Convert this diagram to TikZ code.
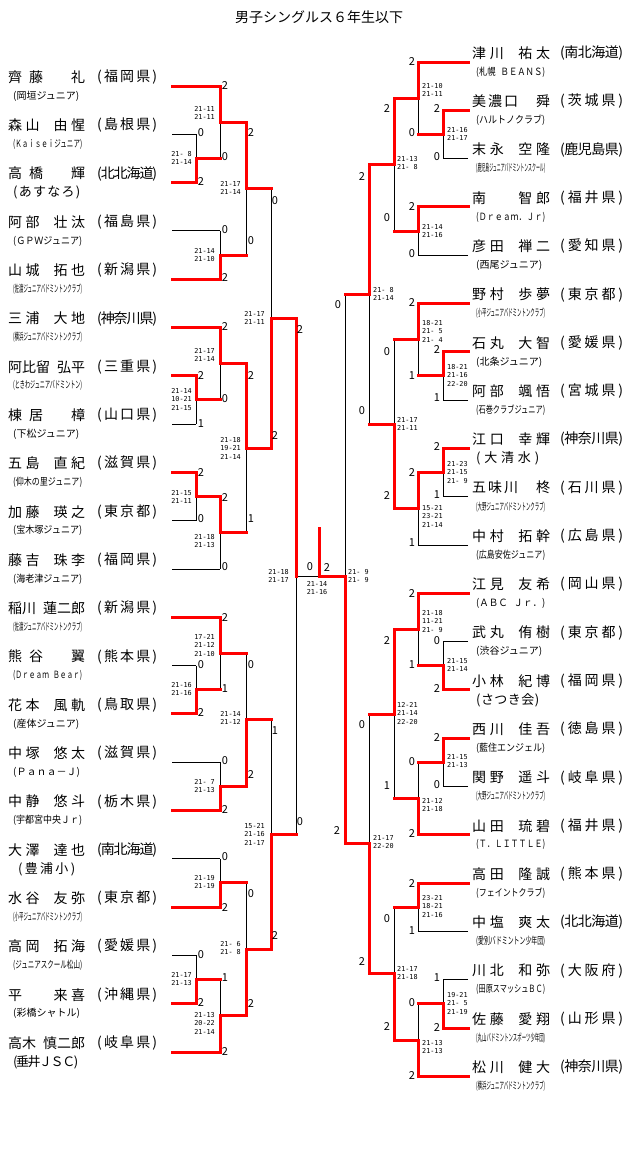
\documentclass[tikz,border=0pt]{standalone}
\usepackage{fontspec}
\usepackage{graphicx}
\setmainfont{Noto Sans CJK JP}
\newfontfamily\scf{DejaVu Sans Mono}
\definecolor{redx}{RGB}{255,0,0}
\pgfdeclarelayer{bg}
\pgfsetlayers{bg,main}
\makeatletter
\newcommand\dgl{\hskip 0pt plus 1fill minus 4pt\relax}
\newcommand\zsp{\hbox to 1em{}}
\newcommand\hsp{\hbox to .5em{}}
\newcommand\csp{\hspace{6pt}}
\newcommand\distr[2]{\hbox to #1{\let\distr@sep\relax\@tfor\distr@c:=#2\do{\distr@sep\distr@c\let\distr@sep\dgl}}}
\makeatother
\newsavebox\clubbox
\newcommand\club[2][69pt]{\sbox\clubbox{\fontsize{10}{10}\selectfont #2}\ifdim\wd\clubbox>#1\relax\resizebox{#1}{\height}{\usebox\clubbox}\else\usebox\clubbox\fi}
\newcommand\bigc[2]{{\fontsize{13}{13}\selectfont\distr{#1}{#2}}}
\tikzset{
 bk/.style={draw=black,line width=1pt},
 rd/.style={draw=redx,line width=3pt,line cap=rect},
 nm/.style={anchor=west,inner sep=0pt,font=\fontsize{14}{14}\selectfont},
 cl/.style={anchor=west,inner sep=0pt},
 dg/.style={inner sep=0pt,font=\fontsize{11}{11}\selectfont},
 scl/.style={anchor=east,align=right,inner sep=0pt,font=\scf\fontsize{6.8}{8.4}\selectfont},
 scr/.style={anchor=west,align=left,inner sep=0pt,font=\scf\fontsize{6.8}{8.4}\selectfont},
 scc/.style={anchor=center,align=center,inner sep=0pt,font=\scf\fontsize{6.8}{8.4}\selectfont},
}
\newcommand\LP[5]{%
 \node[nm] (#1n) at (8,#2-9) {\distr{77pt}{#3}};
 \node[nm] (#1p) at (97,#2-9) {\distr{60pt}{#4}};
 \node[cl] (#1c) at (13,#2+10) {#5};
 \coordinate (#1) at (172,#2);}
\newcommand\RP[5]{%
 \node[nm] (#1n) at (472,#2-9) {\distr{78pt}{#3}};
 \node[nm] (#1p) at (560,#2-9) {\distr{63pt}{#4}};
 \node[cl] (#1c) at (476,#2+10) {#5};
 \coordinate (#1) at (468,#2);}
\newcommand\PLr[2]{\draw[rd] (#1) -- (#1 -| #2);}
\newcommand\PLb[2]{\begin{pgfonlayer}{bg}\draw[bk] (#1) -- (#1 -| #2);\end{pgfonlayer}}
\newcommand\MT[6]{%
 \begin{pgfonlayer}{bg}\draw[bk] (#1,#2) -- (#1,#3);\end{pgfonlayer}
 \draw[rd] (#1,#5) -- (#1,#4) -- (#6,#4);}
\begin{document}
\begin{tikzpicture}[x=1pt,y=-1pt]
\useasboundingbox (0,0) rectangle (640,1165);
\node (title) at (319,17) {\fontsize{14}{14}\selectfont 男子シングルス６年生以下};
\coordinate (c1) at (196,0); \coordinate (c2) at (220,0);
\coordinate (d1) at (443,0); \coordinate (d2) at (418,0);
% left players
\LP{L1}{86}{齊藤\zsp 礼}{(福岡県)}{\club{(岡垣ジュニア)}}
\LP{L2}{134.3}{森山\hsp 由惺}{(島根県)}{\club{(Ｋａｉｓｅｉジュニア)}}
\LP{L3}{182.6}{高橋\zsp 輝}{(北北海道)}{\bigc{67pt}{(あすなろ)}}
\LP{L4}{230.9}{阿部\hsp 壮汰}{(福島県)}{\club{(ＧＰＷジュニア)}}
\LP{L5}{279.2}{山城\hsp 拓也}{(新潟県)}{\club{(佐渡ジュニアバドミントンクラブ)}}
\LP{L6}{327.5}{三浦\hsp 大地}{(神奈川県)}{\club{(横浜ジュニアバドミントンクラブ)}}
\LP{L7}{375.8}{阿比留\hsp 弘平}{(三重県)}{\club{(ときわジュニアバドミントン)}}
\LP{L8}{424.1}{棟居\zsp 樟}{(山口県)}{\club{(下松ジュニア)}}
\LP{L9}{472.4}{五島\hsp 直紀}{(滋賀県)}{\club{(仰木の里ジュニア)}}
\LP{L10}{520.7}{加藤\hsp 瑛之}{(東京都)}{\club{(宝木塚ジュニア)}}
\LP{L11}{569}{藤吉\hsp 珠李}{(福岡県)}{\club{(海老津ジュニア)}}
\LP{L12}{617.3}{稲川\hsp 蓮二郎}{(新潟県)}{\club{(佐渡ジュニアバドミントンクラブ)}}
\LP{L13}{665.6}{熊谷\zsp 翼}{(熊本県)}{\club{(Ｄｒｅａｍ\csp Ｂｅａｒ)}}
\LP{L14}{713.9}{花本\hsp 風軌}{(鳥取県)}{\club{(産体ジュニア)}}
\LP{L15}{762.2}{中塚\hsp 悠太}{(滋賀県)}{\club{(Ｐａｎａ－Ｊ)}}
\LP{L16}{810.5}{中静\hsp 悠斗}{(栃木県)}{\club{(宇都宮中央Ｊｒ)}}
\LP{L17}{858.8}{大澤\hsp 達也}{(南北海道)}{\hskip5pt\bigc{57pt}{(豊浦小)}}
\LP{L18}{907.1}{水谷\hsp 友弥}{(東京都)}{\club{(小平ジュニアバドミントンクラブ)}}
\LP{L19}{955.4}{高岡\hsp 拓海}{(愛媛県)}{\club{(ジュニアスクール松山)}}
\LP{L20}{1003.7}{平\zsp\hsp 来喜}{(沖縄県)}{\club{(彩橋シャトル)}}
\LP{L21}{1052}{高木\hsp 慎二郎}{(岐阜県)}{\bigc{65pt}{(垂井ＪＳＣ)}}
% right players
\RP{R1}{62}{津川\hsp 祐太}{(南北海道)}{\club{(札幌\csp ＢＥＡＮＳ)}}
\RP{R2}{110.3}{美濃口\zsp 舜}{(茨城県)}{\club{(ハルトノクラブ)}}
\RP{R3}{158.6}{末永\hsp 空隆}{(鹿児島県)}{\club{(鹿児島ジュニアバドミントンスクール)}}
\RP{R4}{206.9}{南\zsp\hsp 智郎}{(福井県)}{\club{(Ｄｒｅａｍ．Ｊｒ)}}
\RP{R5}{255.2}{彦田\hsp 禅二}{(愛知県)}{\club{(西尾ジュニア)}}
\RP{R6}{303.5}{野村\hsp 歩夢}{(東京都)}{\club{(小平ジュニアバドミントンクラブ)}}
\RP{R7}{351.8}{石丸\hsp 大智}{(愛媛県)}{\club{(北条ジュニア)}}
\RP{R8}{400.1}{阿部\hsp 颯悟}{(宮城県)}{\club{(石巻クラブジュニア)}}
\RP{R9}{448.4}{江口\hsp 幸輝}{(神奈川県)}{\bigc{63pt}{(大清水)}}
\RP{R10}{496.7}{五味川\zsp 柊}{(石川県)}{\club{(大野ジュニアバドミントンクラブ)}}
\RP{R11}{545}{中村\hsp 拓幹}{(広島県)}{\club{(広島安佐ジュニア)}}
\RP{R12}{593.3}{江見\hsp 友希}{(岡山県)}{\club{(ＡＢＣ\csp Ｊｒ．)}}
\RP{R13}{641.6}{武丸\hsp 侑樹}{(東京都)}{\club{(渋谷ジュニア)}}
\RP{R14}{689.9}{小林\hsp 紀博}{(福岡県)}{\bigc{63pt}{(さつき会)}}
\RP{R15}{738.2}{西川\hsp 佳吾}{(徳島県)}{\club{(藍住エンジェル)}}
\RP{R16}{786.5}{関野\hsp 遥斗}{(岐阜県)}{\club{(大野ジュニアバドミントンクラブ)}}
\RP{R17}{834.8}{山田\hsp 琉碧}{(福井県)}{\club{(Ｔ．ＬＩＴＴＬＥ)}}
\RP{R18}{883.1}{高田\hsp 隆誠}{(熊本県)}{\club{(フェイントクラブ)}}
\RP{R19}{931.4}{中塩\hsp 爽太}{(北北海道)}{\club{(愛別バドミントン少年団)}}
\RP{R20}{979.7}{川北\hsp 和弥}{(大阪府)}{\club{(田原スマッシュＢＣ)}}
\RP{R21}{1028}{佐藤\hsp 愛翔}{(山形県)}{\club{(丸山バドミントンスポーツ少年団)}}
\RP{R22}{1076.3}{松川\hsp 健大}{(神奈川県)}{\club{(横浜ジュニアバドミントンクラブ)}}
% left player lines
\PLr{L1}{c2} \PLb{L2}{c1} \PLr{L3}{c1} \PLb{L4}{c2} \PLr{L5}{c2}
\PLr{L6}{c2} \PLr{L7}{c1} \PLb{L8}{c1} \PLr{L9}{c1} \PLb{L10}{c1} \PLb{L11}{c2}
\PLr{L12}{c2} \PLb{L13}{c1} \PLr{L14}{c1} \PLb{L15}{c2} \PLr{L16}{c2}
\PLb{L17}{c2} \PLr{L18}{c2} \PLb{L19}{c1} \PLr{L20}{c1} \PLr{L21}{c2}
% right player lines
\PLr{R1}{d2} \PLr{R2}{d1} \PLb{R3}{d1} \PLr{R4}{d2} \PLb{R5}{d2}
\PLr{R6}{d2} \PLr{R7}{d1} \PLb{R8}{d1} \PLr{R9}{d1} \PLb{R10}{d1} \PLb{R11}{d2}
\PLr{R12}{d2} \PLb{R13}{d1} \PLr{R14}{d1} \PLr{R15}{d1} \PLb{R16}{d1} \PLr{R17}{d2}
\PLr{R18}{d2} \PLb{R19}{d2} \PLb{R20}{d1} \PLr{R21}{d1} \PLr{R22}{d2}
% left matches
\MT{196}{134.3}{182.6}{158.45}{182.6}{220}
\MT{220}{86}{158.45}{122.2}{86}{246}
\MT{220}{230.9}{279.2}{255.05}{279.2}{246}
\MT{246}{122.2}{255.05}{188.6}{122.2}{271}
\MT{196}{375.8}{424.1}{399.95}{375.8}{220}
\MT{220}{327.5}{399.95}{363.7}{327.5}{246}
\MT{196}{472.4}{520.7}{496.55}{472.4}{220}
\MT{220}{496.55}{569}{532.8}{496.55}{246}
\MT{246}{363.7}{532.8}{448.25}{363.7}{271}
\MT{271}{188.6}{448.25}{318.4}{448.25}{296}
\MT{196}{665.6}{713.9}{689.75}{713.9}{220}
\MT{220}{617.3}{689.75}{653.5}{617.3}{246}
\MT{220}{762.2}{810.5}{786.35}{810.5}{246}
\MT{246}{653.5}{786.35}{719.9}{786.35}{271}
\MT{220}{858.8}{907.1}{882.95}{907.1}{246}
\MT{196}{955.4}{1003.7}{979.55}{1003.7}{220}
\MT{220}{979.55}{1052}{1015.8}{1052}{246}
\MT{246}{882.95}{1015.8}{949.4}{1015.8}{271}
\MT{271}{719.9}{949.4}{834.65}{949.4}{296}
% right matches
\MT{443}{110.3}{158.6}{134.45}{110.3}{418}
\MT{418}{62}{134.45}{98.2}{62}{394}
\MT{418}{206.9}{255.2}{231.05}{206.9}{394}
\MT{394}{98.2}{231.05}{164.6}{98.2}{369}
\MT{443}{351.8}{400.1}{375.95}{351.8}{418}
\MT{418}{303.5}{375.95}{339.7}{303.5}{394}
\MT{443}{448.4}{496.7}{472.55}{448.4}{418}
\MT{418}{472.55}{545}{508.8}{472.55}{394}
\MT{394}{339.7}{508.8}{424.25}{508.8}{369}
\MT{369}{164.6}{424.25}{294.4}{164.6}{345}
\MT{443}{641.6}{689.9}{665.75}{689.9}{418}
\MT{418}{593.3}{665.75}{629.5}{593.3}{394}
\MT{443}{738.2}{786.5}{762.35}{738.2}{418}
\MT{418}{762.35}{834.8}{798.6}{834.8}{394}
\MT{394}{629.5}{798.6}{714.05}{629.5}{369}
\MT{418}{883.1}{931.4}{907.25}{883.1}{394}
\MT{443}{979.7}{1028}{1003.85}{1028}{418}
\MT{418}{1003.85}{1076.3}{1040.1}{1076.3}{394}
\MT{394}{907.25}{1040.1}{973.7}{1040.1}{369}
\MT{369}{714.05}{973.7}{843.9}{973.7}{345}
% final
\coordinate (fl) at (296,576.5); \coordinate (fr) at (345,576.5); \coordinate (fc) at (319,576.5); \coordinate (ft) at (319,528);
\begin{pgfonlayer}{bg}
\draw[bk] (296,318.4) -- (296,834.65);
\draw[bk] (345,294.4) -- (345,843.9);
\draw[bk] (fl) -- (fr);
\end{pgfonlayer}
\draw[rd] (296,318.4) -- (fl);
\draw[rd] (345,843.9) -- (fr) -- (fc) -- (ft);
% game digits
\foreach \x/\y/\d [count=\k] in {225/86/2, 201/133/0, 225/157/0, 201/182/2, 251/133/2, 251/241/0, 275/201/0, 225/230/0, 225/278/2,
225/327/2, 251/376/2, 201/376/2, 225/399/0, 201/424/1, 275/435/2, 201/472/2, 225/497/2, 201/519/0, 251/519/1, 225/567/0, 300/330/2,
225/617/2, 201/665/0, 251/665/0, 225/689/1, 201/712/2, 275/731/1, 225/761/0, 251/774/2, 225/809/2, 300/822/0, 225/857/0,
251/894/0, 225/907/2, 275/935/2, 201/955/0, 225/978/1, 201/1002/2, 251/1003/2, 225/1051/2,
310/567/0, 327/567/2,
412/62/2, 437/109/2, 412/133/0, 437/157/0, 387/109/2, 387/218/0, 362/177/2, 412/207/2, 412/254/0,
338/305/0, 412/303/2, 387/352/0, 437/350/2, 412/376/1, 437/398/1, 362/411/0, 437/447/2, 412/472/2, 437/495/1, 387/496/2, 412/543/1,
412/593/2, 437/641/0, 387/640/2, 412/665/1, 437/688/2, 362/725/0, 437/737/2, 412/762/0, 437/785/0, 387/786/1, 412/833/2, 337/830/2,
412/883/2, 387/919/0, 412/931/1, 362/961/2, 437/978/1, 412/1003/0, 437/1027/2, 387/1026/2, 412/1075/2}
 \node[dg] (dg\k) at (\x,\y) {\d};
% left score texts
\node[scl] (sB) at (215,113.2) {21-11\\21-11};
\node[scl] (sA) at (192,158.2) {21- 8\\21-14};
\node[scl] (sD) at (241,188.2) {21-17\\21-14};
\node[scl] (sC) at (215,255.2) {21-14\\21-10};
\node[scl] (sJ) at (265,318.2) {21-17\\21-11};
\node[scl] (sF) at (215,355.2) {21-17\\21-14};
\node[scl] (sE) at (192,399.4) {21-14\\10-21\\21-15};
\node[scl] (sI) at (241,448.4) {21-18\\19-21\\21-14};
\node[scl] (sG) at (192,497.2) {21-15\\21-11};
\node[scl] (sH) at (215,541.2) {21-18\\21-13};
\node[scl] (sT) at (289,576.2) {21-18\\21-17};
\node[scl] (sL) at (215,645.4) {17-21\\21-12\\21-10};
\node[scl] (sK) at (192,689.2) {21-16\\21-16};
\node[scl] (sN) at (241,718.2) {21-14\\21-12};
\node[scl] (sM) at (215,786.2) {21- 7\\21-13};
\node[scl] (sS) at (265,834.4) {15-21\\21-16\\21-17};
\node[scl] (sO) at (215,882.2) {21-19\\21-19};
\node[scl] (sR) at (241,948.2) {21- 6\\21- 8};
\node[scl] (sP) at (192,979.2) {21-17\\21-13};
\node[scl] (sQ) at (215,1023.4) {21-13\\20-22\\21-14};
\node[scc] (sFin) at (317,588.2) {21-14\\21-16};
% right score texts
\node[scr] (sb) at (422,90.2) {21-10\\21-11};
\node[scr] (sa) at (447,134.2) {21-16\\21-17};
\node[scr] (sd) at (397,163.2) {21-13\\21- 8};
\node[scr] (sc) at (422,231.2) {21-14\\21-16};
\node[scr] (sj) at (373,294.2) {21- 8\\21-14};
\node[scr] (sf) at (422,331.4) {18-21\\21- 5\\21- 4};
\node[scr] (se) at (447,375.4) {18-21\\21-16\\22-20};
\node[scr] (si) at (397,424.2) {21-17\\21-11};
\node[scr] (sg) at (447,472.4) {21-23\\21-15\\21- 9};
\node[scr] (sh) at (422,516.4) {15-21\\23-21\\21-14};
\node[scr] (su) at (348,576.2) {21- 9\\21- 9};
\node[scr] (sl) at (422,621.4) {21-18\\11-21\\21- 9};
\node[scr] (sk) at (447,665.2) {21-15\\21-14};
\node[scr] (so) at (397,713.4) {12-21\\21-14\\22-20};
\node[scr] (sm) at (447,761.2) {21-15\\21-13};
\node[scr] (sn) at (422,805.2) {21-12\\21-18};
\node[scr] (st) at (373,842.2) {21-17\\22-20};
\node[scr] (sp) at (422,906.4) {23-21\\18-21\\21-16};
\node[scr] (ss) at (397,973.2) {21-17\\21-18};
\node[scr] (sq) at (447,1003.4) {19-21\\21- 5\\21-19};
\node[scr] (sr) at (422,1047.2) {21-13\\21-13};
\end{tikzpicture}
\end{document}
